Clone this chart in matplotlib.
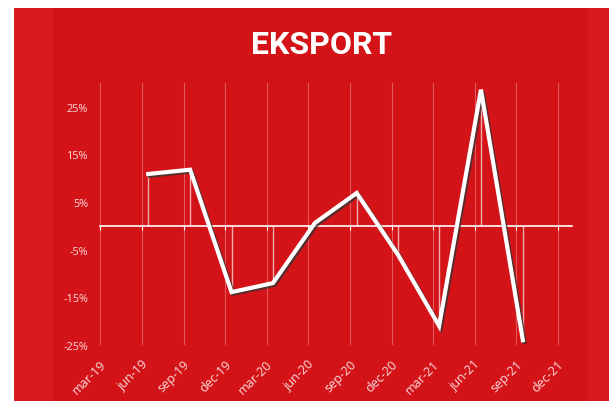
import matplotlib
matplotlib.use("Agg")
import matplotlib.pyplot as plt
import matplotlib.dates as mdates
import matplotlib.patheffects as pe
from matplotlib.patches import Rectangle
from matplotlib.transforms import ScaledTranslation
from datetime import date

# data (quarterly export change, %)
dates = [date(2019, 6, 15), date(2019, 9, 15), date(2019, 12, 15), date(2020, 3, 15),
         date(2020, 6, 15), date(2020, 9, 15), date(2020, 12, 15), date(2021, 3, 15),
         date(2021, 6, 15), date(2021, 9, 15)]
values = [10.9, 11.8, -13.9, -12.0, 0.6, 6.9, -6.1, -21.0, 28.6, -24.0]

tick_dates = [date(2019, 3, 1), date(2019, 6, 1), date(2019, 9, 1), date(2019, 12, 1),
              date(2020, 3, 1), date(2020, 6, 1), date(2020, 9, 1), date(2020, 12, 1),
              date(2021, 3, 1), date(2021, 6, 1), date(2021, 9, 1), date(2021, 12, 1)]
tick_labels = ["mar-19", "jun-19", "sep-19", "dec-19", "mar-20", "jun-20",
               "sep-20", "dec-20", "mar-21", "jun-21", "sep-21", "dec-21"]
y_ticks = [-25, -15, -5, 5, 15, 25]

red = "#d41318"
red_light = "#d81b20"
txt = "#f9dcdc"

fig = plt.figure(figsize=(6.09, 4.02), dpi=100, facecolor="white")

# background panels
W, H = 609, 402
for x0, w, c in [(14, 595, red), (14, 39, red_light), (588, 21, red_light)]:
    fig.add_artist(Rectangle((x0 / W, 0), w / W, 1 - 9 / H, transform=fig.transFigure,
                             facecolor=c, edgecolor="none", zorder=-10))

ax = fig.add_axes([100 / W, 56 / H, 472 / W, 262 / H])
ax.set_facecolor("none")
ax.set_zorder(1)

ymin, ymax = -25, 30
ax.set_ylim(ymin, ymax)
ax.set_xlim(date(2019, 3, 1), date(2022, 1, 1))

# drop lines
ax.vlines(dates, 0, values, color="white", alpha=0.65, lw=1, zorder=2)

# main line with shadow
ax.plot(dates, values, color="white", lw=3, solid_joinstyle="miter", zorder=4,
        path_effects=[pe.SimpleLineShadow(offset=(1.2, -1.2), shadow_color="#333333", alpha=0.8),
                      pe.Normal()])

for s in ax.spines.values():
    s.set_visible(False)

ax.set_xticks(tick_dates)
ax.set_xticklabels(tick_labels)
ax.tick_params(axis="x", length=0, pad=12, labelsize=9, labelcolor=txt)
for lab in ax.get_xticklabels():
    lab.set_rotation(45)
    lab.set_ha("right")
    lab.set_va("center")
    lab.set_rotation_mode("anchor")
    lab.set_fontfamily("Open Sans")
    lab.set_transform(lab.get_transform() + ScaledTranslation(4 / 100, 0, fig.dpi_scale_trans))

ax.set_yticks(y_ticks)
ax.set_yticklabels([f"{v}%" for v in y_ticks], fontfamily="Open Sans")
ax.tick_params(axis="y", length=0, pad=8.5, labelsize=7.8, labelcolor=txt)

ax.grid(axis="x", color="white", alpha=0.3, lw=0.8)
ax.grid(axis="y", visible=False)

# zero axis line with small tick marks
zero_ax = ax.secondary_xaxis((0 - ymin) / (ymax - ymin))
zero_ax.set_xticks(mdates.date2num(tick_dates))
zero_ax.tick_params(axis="x", length=3, width=0.8, color="white", labelbottom=False, direction="out")
zero_ax.spines["bottom"].set_color("white")
zero_ax.spines["bottom"].set_linewidth(1.2)

fig.text(0.528, 0.888, "EKSPORT", color="white", fontsize=23, fontweight="bold",
         fontfamily="Roboto", ha="center", va="center")

fig.savefig("out.png", dpi=100, facecolor=fig.get_facecolor())
